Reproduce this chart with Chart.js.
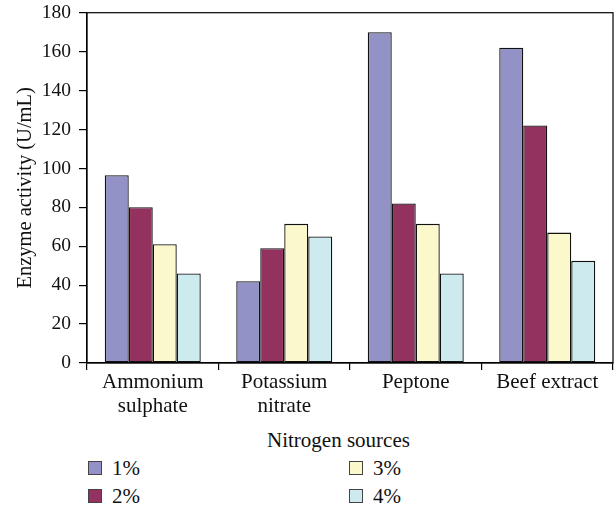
<!DOCTYPE html>
<html>
<head>
<meta charset="utf-8">
<script src="https://cdn.jsdelivr.net/npm/chart.js@4/dist/chart.umd.min.js"></script>
<style>
    html, body { margin: 0; padding: 0; background: #fff; }
    #wrap { position: relative; width: 614px; height: 507px; overflow: hidden; font-family: 'Liberation Serif', serif; color: #111; }
    /* chart box pulled up a little: Chart.js keeps ~20px above the plot for the top tick label */
    #chartBox { position: absolute; left: 0; top: -7px; width: 614px; height: 432px; }
    .lbl { position: absolute; font-size: 21px; line-height: 24px; white-space: nowrap; }
    .box { position: absolute; width: 12px; height: 12px; border: 1px solid #444; }
</style>
</head>
<body>
<div id="wrap">
    <div id="chartBox"><canvas id="enzymeChart"></canvas></div>
    <div class="lbl" style="left:267px; top:428px;">Nitrogen sources</div>
    <div id="legend"></div>
</div>
<script>
// --- Data ---
let categories = [['Ammonium', 'sulphate'], ['Potassium', 'nitrate'], 'Peptone', 'Beef extract'];
let seriesNames = ['1%', '2%', '3%', '4%'];
let conc1 = [96.5, 42, 170, 162];
let conc2 = [80, 59, 82, 122];
let conc3 = [61, 71.5, 71.5, 67];
let conc4 = [46, 65, 46, 52.5];
let yTicks = [0, 20, 40, 60, 80, 100, 120, 140, 160, 180];

let colors = ['#9292c6', '#93315f', '#fbf8cc', '#cdebef'];
let seriesValues = [conc1, conc2, conc3, conc4];

// Frame round the plot area (top and right sides too)
let frame = {
    id: 'frame',
    afterDraw(chart) {
        let a = chart.chartArea;
        let ctx = chart.ctx;
        ctx.save();
        ctx.strokeStyle = '#000';
        ctx.lineWidth = 1.2;
        ctx.strokeRect(a.left, a.top, a.right - a.left, a.bottom - a.top);
        ctx.restore();
    }
};

let ctx = document.getElementById('enzymeChart').getContext('2d');

let chart = new Chart(ctx, {
    type: 'bar',
    data: {
        labels: categories,
        datasets: seriesNames.map(function (name, i) {
            return {
                label: name,
                data: seriesValues[i],
                backgroundColor: colors[i],
                borderColor: '#111',
                borderWidth: 1.3,
                borderSkipped: false,
                categoryPercentage: 0.73,
                barPercentage: 1.0
            };
        })
    },
    options: {
        responsive: true,
        maintainAspectRatio: false,
        animation: false,
        layout: { padding: { top: 1, right: 1, left: 0, bottom: 0 } },
        plugins: {
            legend: { display: false },
            tooltip: { enabled: false }
        },
        scales: {
            x: {
                afterFit: function (scale) { scale.height = 62; },
                grid: {
                    display: true,
                    offset: true,
                    drawOnChartArea: false,
                    drawTicks: true,
                    tickLength: 7,
                    color: '#000',
                    lineWidth: 1.2
                },
                border: { display: true, color: '#000', width: 1.2 },
                ticks: {
                    padding: 0,
                    color: '#111',
                    maxRotation: 0,
                    font: { size: 21, family: 'Liberation Serif', lineHeight: 1.143 }
                }
            },
            y: {
                min: 0,
                max: 180,
                afterFit: function (scale) { scale.width = 87; },
                afterBuildTicks: function (scale) {
                    scale.ticks = yTicks.map(function (v) { return { value: v }; });
                },
                grid: {
                    display: true,
                    drawOnChartArea: false,
                    drawTicks: true,
                    tickLength: 8,
                    color: '#000',
                    lineWidth: 1.2
                },
                border: { display: true, color: '#000', width: 1.2 },
                ticks: {
                    padding: 8,
                    color: '#111',
                    font: { size: 19.5, family: 'Liberation Serif' }
                },
                title: {
                    display: true,
                    text: 'Enzyme activity (U/mL)',
                    color: '#111',
                    padding: { top: 13, bottom: 0 },
                    font: { size: 20.5, family: 'Liberation Serif', lineHeight: 1.2 }
                }
            }
        }
    },
    plugins: [frame]
});

// Legend in two columns: 1%, 2% on the left, 3%, 4% on the right
let legendPos = [[88, 461], [88, 489], [349, 461], [349, 489]];
let legendDiv = document.getElementById('legend');
seriesNames.forEach(function (name, i) {
    let box = document.createElement('div');
    box.className = 'box';
    box.style.left = legendPos[i][0] + 'px';
    box.style.top = legendPos[i][1] + 'px';
    box.style.background = colors[i];
    legendDiv.appendChild(box);

    let txt = document.createElement('div');
    txt.className = 'lbl';
    txt.style.left = (legendPos[i][0] + 24) + 'px';
    txt.style.top = (legendPos[i][1] - 5) + 'px';
    txt.innerText = name;
    legendDiv.appendChild(txt);
});
</script>
</body>
</html>
